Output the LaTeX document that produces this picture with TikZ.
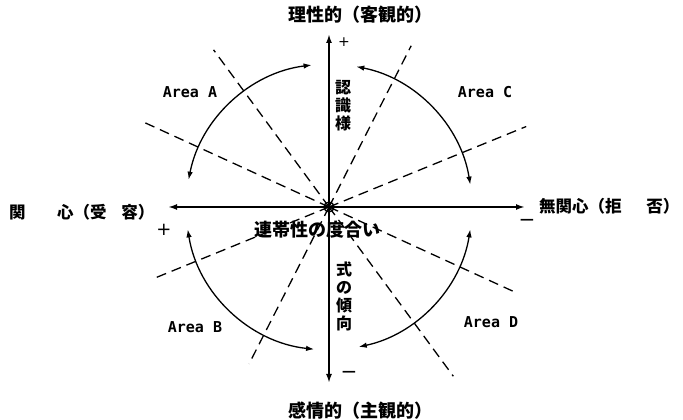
\documentclass[tikz,border=0pt]{standalone}
\usepackage{fontspec}
\newfontfamily\jp{Noto Sans CJK JP}
\newfontfamily\mono{DejaVu Sans Mono}
\newfontfamily\dejavu{DejaVu Sans}
\usetikzlibrary{arrows.meta}
\begin{document}
\begin{tikzpicture}[x=1pt,y=1pt,
  axis/.style={line width=1.8pt, {Latex[length=9pt,width=6pt]}-{Latex[length=9pt,width=6pt]}},
  arcarrow/.style={line width=1.3pt, {Latex[length=8pt,width=5.5pt]}-{Latex[length=8pt,width=5.5pt]}},
  dashline/.style={line width=1.3pt, dash pattern=on 10pt off 6pt},
  jplabel/.style={font=\jp\bfseries\fontsize{18}{18}\selectfont, inner sep=0pt},
  sidelabel/.style={font=\jp\bfseries\fontsize{16.5}{18}\selectfont, inner sep=0pt},
  vlabel/.style={font=\jp\bfseries\fontsize{16}{18}\selectfont, inner sep=0pt, align=center},
  arealabel/.style={font=\mono\bfseries\fontsize{15}{15}\selectfont, inner sep=0pt},
  signlabel/.style={font=\dejavu\fontsize{18}{18}\selectfont, inner sep=0pt}
]
\useasboundingbox (0,0) rectangle (683,420);

% centre
\node[draw, circle, line width=1.3pt, minimum size=10pt, inner sep=0pt] (o) at (329,213) {};

% axis ends
\coordinate (top) at (329,386);
\coordinate (bottom) at (329,37);
\coordinate (left) at (168,213);
\coordinate (right) at (525,213);

% dashed rays
\foreach \a/\r/\s in {126.3/195/210, 155.4/208/207, 63/181/176, 22.2/213/191}{
  \draw[dashline] (o.center) -- ++(\a:\r);
  \draw[dashline] (o.center) -- ++(\a+180:\s);
}

% axes
\draw[axis] (bottom) -- (top);
\draw[axis] (left) -- (right);

% arcs
\draw[arcarrow] (o.center) ++(169:143) arc[start angle=169, end angle=97, radius=143];
\draw[arcarrow] (o.center) ++(79:143) arc[start angle=79, end angle=9, radius=143];
\draw[arcarrow] (o.center) ++(189:143) arc[start angle=189, end angle=264, radius=143];
\draw[arcarrow] (o.center) ++(351:143) arc[start angle=351, end angle=282, radius=143];

% axis labels
\node[jplabel] (tl) at (360,405.5) {理性的（客観的）};
\node[jplabel] (bl) at (360,9) {感情的（主観的）};
\node[sidelabel, anchor=west] (ll) at (9,208) {関\hspace{1.9em}心（受\hspace{0.9em}容）};
\node[sidelabel, anchor=west] (rl) at (539,214) {無関心（拒\hspace{1.5em}否）};
\node[jplabel] (mid) at (317,190) {連帯性の度合い};
\node[vlabel] (v1) at (343,314) {認\\識\\様};
\node[vlabel] (v2) at (344,124) {式\\の\\傾\\向};

% area labels
\node[arealabel] (aA) at (190,328) {Area A};
\node[arealabel] (aC) at (485,328) {Area C};
\node[arealabel] (aB) at (195,93) {Area B};
\node[arealabel] (aD) at (491,98) {Area D};

% signs
\node[signlabel, font=\dejavu\fontsize{14}{14}\selectfont] (ptop) at (344,378) {+};
\node[signlabel] (pleft) at (164,190) {+};
\node[signlabel, font=\dejavu\fontsize{20}{20}\selectfont] (mright) at (527,197) {−};
\node[signlabel, font=\dejavu\fontsize{20}{20}\selectfont] (mbottom) at (349,45) {−};
\end{tikzpicture}
\end{document}
